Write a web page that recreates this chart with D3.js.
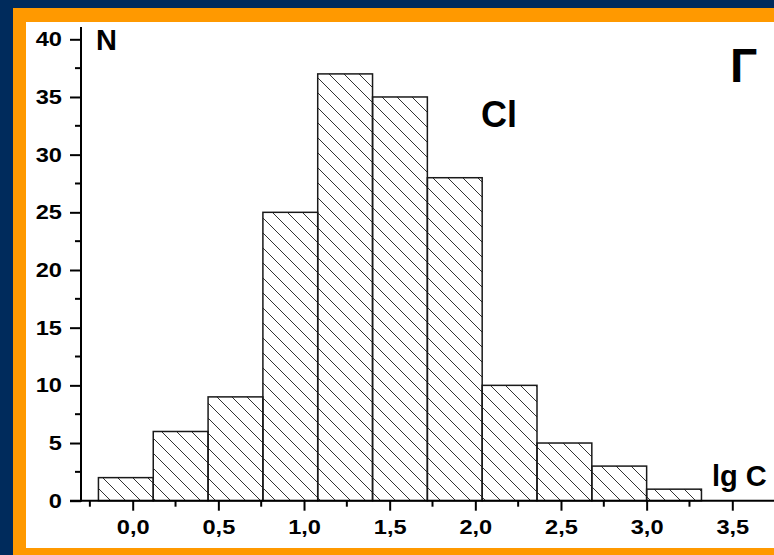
<!DOCTYPE html>
<html>
<head>
<meta charset="utf-8">
<script src="https://cdn.jsdelivr.net/npm/d3@7"></script>
<style>
  html, body { margin: 0; padding: 0; background: #002b5c; }
  svg { display: block; font-family: "Liberation Sans", Arial, sans-serif; font-weight: bold; }
</style>
</head>
<body>
<div id="vis"></div>
<script>

// histogram data, lg C bins
var binEdges = [-0.2, 0.12, 0.44, 0.76, 1.08, 1.40, 1.72, 2.04, 2.36, 2.68, 3.00, 3.32];
var counts = [2, 6, 9, 25, 37, 35, 28, 10, 5, 3, 1];
var xTicks = [0, 0.5, 1.0, 1.5, 2.0, 2.5, 3.0, 3.5];
var xMinorTicks = [-0.25, 0.25, 0.75, 1.25, 1.75, 2.25, 2.75, 3.25];
var yTicks = [0, 5, 10, 15, 20, 25, 30, 35, 40];
var yMinorTicks = [2.5, 7.5, 12.5, 17.5, 22.5, 27.5, 32.5, 37.5];

var width = 774;
var height = 555;
var stretch = 1.18; // tick labels in the original look horizontally widened

var svg = d3.select('#vis')
  .append('svg')
  .attr('width', width)
  .attr('height', height);

// frame: blue, orange, white
svg.append('rect').attr('width', width).attr('height', height).attr('fill', '#002b5c');
svg.append('rect').attr('x', 13).attr('y', 8).attr('width', width - 13).attr('height', height - 8).attr('fill', '#ff9900');
svg.append('rect').attr('x', 26).attr('y', 22).attr('width', width - 26).attr('height', 526).attr('fill', '#ffffff');

var defs = svg.append('defs');
var pat = defs.append('pattern')
  .attr('id', 'hatch')
  .attr('patternUnits', 'userSpaceOnUse')
  .attr('width', 15)
  .attr('height', 15);
pat.append('path')
  .attr('d', 'M0,0 L15,15 M-3,12 L3,18 M12,-3 L18,3')
  .attr('stroke', '#333')
  .attr('stroke-width', 1)
  .attr('fill', 'none');

var x = d3.scaleLinear().domain([0, 3.5]).range([132.7, 732.3]);
var y = d3.scaleLinear().domain([0, 40]).range([500.7, 39.3]);

var x0 = 81, x1 = 774;
var yTop = 27;

// bars
var bars = counts.map(function (c, i) {
  return { lo: binEdges[i], hi: binEdges[i + 1], n: c };
});

svg.selectAll('.bar')
  .data(bars)
  .enter().append('rect')
  .attr('class', 'bar')
  .attr('x', function (d) { return x(d.lo); })
  .attr('y', function (d) { return y(d.n); })
  .attr('width', function (d) { return x(d.hi) - x(d.lo); })
  .attr('height', function (d) { return y(0) - y(d.n); })
  .attr('fill', 'url(#hatch)')
  .attr('stroke', '#1a1a1a')
  .attr('stroke-width', 1.5);

// y axis
var yAxis = d3.axisLeft(y)
  .tickValues(yTicks)
  .tickSize(11)
  .tickPadding(8)
  .tickFormat(d3.format('d'));

var gy = svg.append('g')
  .attr('transform', 'translate(' + x0 + ',0)')
  .call(yAxis);
gy.select('.domain').remove();
gy.append('line')
  .attr('x1', 0).attr('x2', 0)
  .attr('y1', yTop).attr('y2', y(0) + 1)
  .attr('stroke', '#000').attr('stroke-width', 2);
gy.selectAll('.tick line').attr('stroke', '#000').attr('stroke-width', 2);
gy.selectAll('.tick text')
  .attr('fill', '#000')
  .attr('x', -19 / stretch)
  .attr('transform', 'scale(' + stretch + ',1)')
  .style('font-size', '20px')
  .style('font-weight', 'bold')
  .style('font-family', '"Liberation Sans", Arial, sans-serif');

gy.selectAll('.minor')
  .data(yMinorTicks)
  .enter().append('line')
  .attr('class', 'minor')
  .attr('x1', -6).attr('x2', 0)
  .attr('y1', function (d) { return y(d); })
  .attr('y2', function (d) { return y(d); })
  .attr('stroke', '#000').attr('stroke-width', 2);

// x axis
var xAxis = d3.axisBottom(x)
  .tickValues(xTicks)
  .tickSize(10)
  .tickPadding(9)
  .tickFormat(function (d) { return d3.format('.1f')(d).replace('.', ','); });

var gx = svg.append('g')
  .attr('transform', 'translate(0,' + y(0) + ')')
  .call(xAxis);
gx.select('.domain').remove();
gx.append('line')
  .attr('x1', 70).attr('x2', x1)
  .attr('y1', 0).attr('y2', 0)
  .attr('stroke', '#000').attr('stroke-width', 2);
gx.selectAll('.tick line').attr('stroke', '#000').attr('stroke-width', 2);
gx.selectAll('.tick text')
  .attr('fill', '#000')
  .attr('transform', 'scale(' + stretch + ',1)')
  .style('font-size', '20px')
  .style('font-weight', 'bold')
  .style('font-family', '"Liberation Sans", Arial, sans-serif');

gx.selectAll('.minor')
  .data(xMinorTicks)
  .enter().append('line')
  .attr('class', 'minor')
  .attr('x1', function (d) { return x(d); })
  .attr('x2', function (d) { return x(d); })
  .attr('y1', 0).attr('y2', 6)
  .attr('stroke', '#000').attr('stroke-width', 2);

// labels
svg.append('text').attr('x', 96).attr('y', 50).style('font-size', '29px').text('N');
svg.append('text').attr('x', 481).attr('y', 127).style('font-size', '36px').text('Cl');
svg.append('text').attr('x', 730).attr('y', 82).style('font-size', '48px').text('Г');
svg.append('text').attr('x', 712).attr('y', 486).style('font-size', '29px').text('lg C');

</script>
</body>
</html>
